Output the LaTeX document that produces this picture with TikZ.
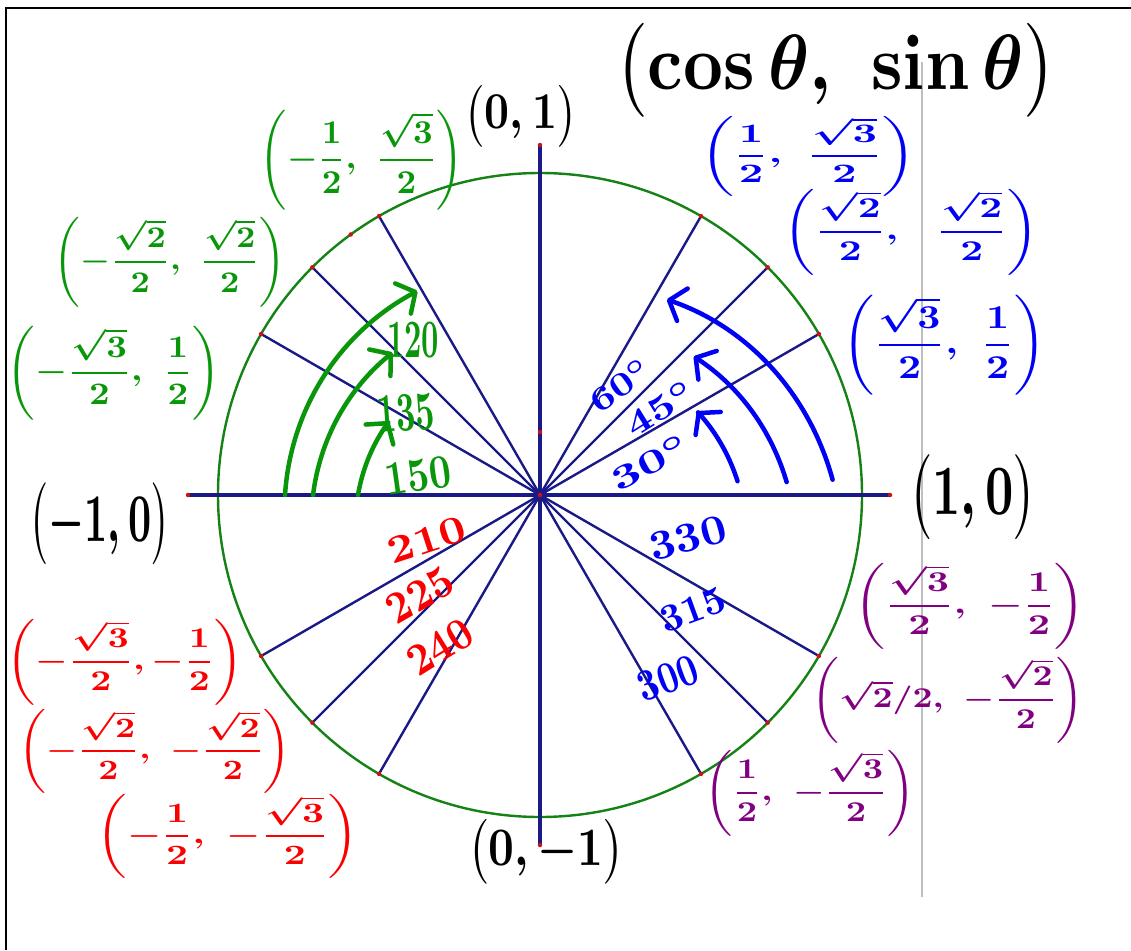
\documentclass[tikz,border=0pt]{standalone}
\usepackage{amsmath}
\usepackage{graphicx}
\usetikzlibrary{arrows.meta}
\definecolor{navyline}{RGB}{25,25,135}
\definecolor{circgreen}{RGB}{20,130,20}
\definecolor{hwgreen}{RGB}{10,150,10}
\definecolor{hwblue}{RGB}{0,0,245}
\definecolor{hwred}{RGB}{250,0,0}
\definecolor{hwpurple}{RGB}{128,0,128}
\definecolor{dotred}{RGB}{200,20,20}
\newcommand{\fitbox}[3]{\resizebox*{#1pt}{#2pt}{\bfseries\boldmath#3}}
\tikzset{
  lab/.style={inner sep=0pt, outer sep=0pt},
  radial/.style={navyline, line width=2.4pt},
  axisline/.style={navyline, line width=3.4pt},
  reddot/.style={circle, fill=dotred, inner sep=0pt, minimum size=4.5pt},
  harrow/.style={line width=4.5pt, line cap=round, line join=round,
    -{Straight Barb[length=14pt,width=34pt,round]}},
}
\begin{document}
\begin{tikzpicture}[x=1pt,y=-1pt]
\useasboundingbox (0,0) rectangle (1131,950);
% frame
\draw[line width=2.5pt] (6,950) -- (6,8) -- (1131,8);
% gray guide line
\draw[black!25, line width=1.5pt] (922,62) -- (922,897);
% circle and axes
\coordinate (O) at (540,495);
\coordinate (L) at (188,495);
\coordinate (R) at (890,495);
\coordinate (T) at (540,145);
\coordinate (B) at (540,845);
\coordinate (M) at (540,432);
\path (O) ++(-126:322) coordinate (X);
\draw[circgreen, line width=2.4pt] (O) circle[radius=322];
\draw[axisline] (L) -- (R);
\draw[axisline] (T) -- (B);
\foreach \a in {30,45,60,120,135,150,210,225,240,300,315,330}{
  \path (O) ++(-\a:322) coordinate (p\a);
  \draw[radial] (O) -- (p\a);
}
\foreach \a in {30,45,60,120,135,150,210,225,240,300,315,330}{
  \node[reddot] (d\a) at (p\a) {};
}
\node[reddot] (dL) at (L) {};
\node[reddot] (dR) at (R) {};
\node[reddot] (dT) at (T) {};
\node[reddot] (dB) at (B) {};
\node[reddot] (dO) at (O) {};
\node[reddot] (dM) at (M) {};
\node[reddot] (dX) at (X) {};

% green arrows (Q2)
\draw[harrow, hwgreen] plot[domain=180:121, samples=60, variable=\t]
  ({540+(255-17*(180-\t)/59)*cos(\t)}, {495-(255-17*(180-\t)/59)*sin(\t)});
\draw[harrow, hwgreen] plot[domain=180:136, samples=60, variable=\t]
  ({540+(227-22*(180-\t)/44)*cos(\t)}, {495-(227-22*(180-\t)/44)*sin(\t)});
\draw[harrow, hwgreen] plot[domain=180:154, samples=60, variable=\t]
  ({540+(182-14*(180-\t)/26)*cos(\t)}, {495-(182-14*(180-\t)/26)*sin(\t)});
% blue arrows (Q1)
\draw[harrow, hwblue] plot[domain=3:57, samples=60, variable=\t]
  ({540+(293-60*(\t-3)/54)*cos(\t)}, {495-(293-60*(\t-3)/54)*sin(\t)});
\draw[harrow, hwblue] plot[domain=3:42, samples=60, variable=\t]
  ({540+(247-40*(\t-3)/39)*cos(\t)}, {495-(247-40*(\t-3)/39)*sin(\t)});
\draw[harrow, hwblue] plot[domain=4:28, samples=60, variable=\t]
  ({540+(198-20*(\t-4)/24)*cos(\t)}, {495-(198-20*(\t-4)/24)*sin(\t)});

% black labels
\node[lab] (title) at (836,70) {\fitbox{440}{94}{$\bigl(\cos\theta,\ \sin\theta\bigr)$}};
\node[lab] (top) at (521,116) {\fitbox{112}{62}{$\bigl(0,1\bigr)$}};
\node[lab] (left) at (100,524) {\fitbox{140}{82}{$\bigl(-1,0\bigr)$}};
\node[lab] (right) at (973,497) {\fitbox{127}{85}{$\bigl(1,0\bigr)$}};
\node[lab] (bottom) at (546,852) {\fitbox{156}{65}{$\bigl(0,-1\bigr)$}};

% Q2 green
\node[lab, text=hwgreen] (c120) at (362,160) {\fitbox{204}{100}{$\left(-\dfrac{1}{2},\ \dfrac{\sqrt{3}}{2}\right)$}};
\node[lab, text=hwgreen] (c135) at (170,262) {\fitbox{232}{90}{$\left(-\dfrac{\sqrt{2}}{2},\ \dfrac{\sqrt{2}}{2}\right)$}};
\node[lab, text=hwgreen] (c150) at (114,373) {\fitbox{214}{94}{$\left(-\dfrac{\sqrt{3}}{2},\ \dfrac{1}{2}\right)$}};
\node[lab, text=hwgreen] (n120) at (413,340) {\fitbox{52}{36}{120}};
\node[lab, text=hwgreen, rotate=4] (n135) at (406,413) {\fitbox{58}{37}{135}};
\node[lab, text=hwgreen, rotate=8] (n150) at (418,476) {\fitbox{66}{32}{150}};

% Q1 blue
\node[lab, text=hwblue] (c60) at (808,156) {\fitbox{216}{80}{$\left(\dfrac{1}{2},\ \dfrac{\sqrt{3}}{2}\right)$}};
\node[lab, text=hwblue] (c45) at (911,232) {\fitbox{255}{86}{$\left(\dfrac{\sqrt{2}}{2},\ \ \dfrac{\sqrt{2}}{2}\right)$}};
\node[lab, text=hwblue] (c30) at (944,345) {\fitbox{204}{100}{$\left(\dfrac{\sqrt{3}}{2},\ \dfrac{1}{2}\right)$}};
\node[lab, text=hwblue, rotate=35] (n60) at (620,385) {\fitbox{68}{24}{$60^{\circ}$}};
\node[lab, text=hwblue, rotate=32] (n45) at (660,408) {\fitbox{75}{25}{$45^{\circ}$}};
\node[lab, text=hwblue, rotate=28] (n30) at (650,462) {\fitbox{84}{24}{$30^{\circ}$}};

% Q3 red
\node[lab, text=hwred] (c210) at (125,662) {\fitbox{236}{86}{$\left(-\dfrac{\sqrt{3}}{2},-\dfrac{1}{2}\right)$}};
\node[lab, text=hwred] (c225) at (155,751) {\fitbox{273}{84}{$\left(-\dfrac{\sqrt{2}}{2},\ -\dfrac{\sqrt{2}}{2}\right)$}};
\node[lab, text=hwred] (c240) at (228,836) {\fitbox{262}{84}{$\left(-\dfrac{1}{2},\ -\dfrac{\sqrt{3}}{2}\right)$}};
\node[lab, text=hwred, rotate=18] (n210) at (427,540) {\fitbox{80}{26}{210}};
\node[lab, text=hwred, rotate=30] (n225) at (420,595) {\fitbox{70}{30}{225}};
\node[lab, text=hwred, rotate=32] (n240) at (440,647) {\fitbox{70}{30}{240}};

% Q4 purple coordinates, blue angles
\node[lab, text=hwpurple] (c330) at (970,606) {\fitbox{231}{86}{$\left(\dfrac{\sqrt{3}}{2},\ -\dfrac{1}{2}\right)$}};
\node[lab, text=hwpurple] (c315) at (948,700) {\fitbox{273}{86}{$\left(\sqrt{2}/2,\ -\dfrac{\sqrt{2}}{2}\right)$}};
\node[lab, text=hwpurple] (c300) at (810,793) {\fitbox{211}{86}{$\left(\dfrac{1}{2},\ -\dfrac{\sqrt{3}}{2}\right)$}};
\node[lab, text=hwblue, rotate=15] (n330) at (688,538) {\fitbox{78}{28}{330}};
\node[lab, text=hwblue, rotate=20] (n315) at (693,610) {\fitbox{68}{26}{315}};
\node[lab, text=hwblue, rotate=20] (n300) at (668,678) {\fitbox{62}{30}{300}};
\end{tikzpicture}
\end{document}
